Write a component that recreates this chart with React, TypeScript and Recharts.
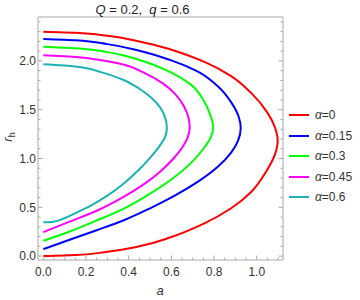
import { LineChart, Line, XAxis, YAxis, Legend } from "recharts";

const alphaNames = ["0", "0.15", "0.3", "0.45", "0.6"];
const colors = ["#ff0000", "#0000ff", "#00ff00", "#ff00ff", "#1bb3b3"];

// each curve runs from the lower branch (a=0), round the nose, back to a=0 on top;
// r_h grows along every curve, so a can be drawn as a smooth function of r_h
const alpha0 = [
  { a: 0, r: 0 }, { a: 0.15, r: 0.011 }, { a: 0.3, r: 0.045 }, { a: 0.45, r: 0.1 },
  { a: 0.6, r: 0.195 }, { a: 0.75, r: 0.33 }, { a: 0.88, r: 0.49 }, { a: 0.975, r: 0.66 },
  { a: 1.045, r: 0.87 }, { a: 1.085, r: 1.04 }, { a: 1.098, r: 1.18 }, { a: 1.085, r: 1.32 },
  { a: 1.05, r: 1.47 }, { a: 0.976, r: 1.667 }, { a: 0.88, r: 1.845 }, { a: 0.76, r: 1.985 },
  { a: 0.6, r: 2.115 }, { a: 0.45, r: 2.2 }, { a: 0.3, r: 2.257 }, { a: 0.15, r: 2.289 },
  { a: 0, r: 2.3 },
];

const alpha015 = [
  { a: 0, r: 0.072 }, { a: 0.12, r: 0.165 }, { a: 0.25, r: 0.265 }, { a: 0.38, r: 0.37 },
  { a: 0.5, r: 0.49 }, { a: 0.62, r: 0.625 }, { a: 0.73, r: 0.77 }, { a: 0.82, r: 0.92 },
  { a: 0.88, r: 1.06 }, { a: 0.912, r: 1.18 }, { a: 0.925, r: 1.31 }, { a: 0.915, r: 1.43 },
  { a: 0.882, r: 1.57 }, { a: 0.82, r: 1.735 }, { a: 0.72, r: 1.895 }, { a: 0.6, r: 2.005 },
  { a: 0.45, r: 2.105 }, { a: 0.3, r: 2.172 }, { a: 0.15, r: 2.212 }, { a: 0, r: 2.225 },
];

const alpha03 = [
  { a: 0, r: 0.157 }, { a: 0.12, r: 0.25 }, { a: 0.25, r: 0.365 }, { a: 0.38, r: 0.49 },
  { a: 0.5, r: 0.64 }, { a: 0.6, r: 0.785 }, { a: 0.69, r: 0.95 }, { a: 0.75, r: 1.1 },
  { a: 0.785, r: 1.22 }, { a: 0.796, r: 1.32 }, { a: 0.78, r: 1.46 }, { a: 0.75, r: 1.6 },
  { a: 0.69, r: 1.76 }, { a: 0.6, r: 1.88 }, { a: 0.45, r: 2.01 }, { a: 0.3, r: 2.09 },
  { a: 0.15, r: 2.13 }, { a: 0, r: 2.146 },
];

const alpha045 = [
  { a: 0, r: 0.246 }, { a: 0.12, r: 0.35 }, { a: 0.25, r: 0.465 }, { a: 0.37, r: 0.6 },
  { a: 0.47, r: 0.735 }, { a: 0.55, r: 0.87 }, { a: 0.61, r: 1.0 }, { a: 0.65, r: 1.11 },
  { a: 0.675, r: 1.21 }, { a: 0.686, r: 1.31 }, { a: 0.68, r: 1.42 }, { a: 0.66, r: 1.53 },
  { a: 0.62, r: 1.655 }, { a: 0.56, r: 1.77 }, { a: 0.48, r: 1.87 }, { a: 0.37, r: 1.965 },
  { a: 0.25, r: 2.015 }, { a: 0.12, r: 2.045 }, { a: 0, r: 2.057 },
];

const alpha06 = [
  { a: 0, r: 0.346 }, { a: 0.04, r: 0.349 }, { a: 0.09, r: 0.38 }, { a: 0.15, r: 0.44 },
  { a: 0.22, r: 0.515 }, { a: 0.3, r: 0.62 }, { a: 0.38, r: 0.75 }, { a: 0.45, r: 0.89 },
  { a: 0.505, r: 1.02 }, { a: 0.545, r: 1.13 }, { a: 0.57, r: 1.22 }, { a: 0.579, r: 1.31 },
  { a: 0.572, r: 1.41 }, { a: 0.55, r: 1.515 }, { a: 0.51, r: 1.615 }, { a: 0.45, r: 1.715 },
  { a: 0.37, r: 1.81 }, { a: 0.27, r: 1.885 }, { a: 0.15, r: 1.942 }, { a: 0, r: 1.965 },
];

const series = [alpha0, alpha015, alpha03, alpha045, alpha06];

const xTicks = [
  0, 0.05, 0.1, 0.15, 0.2, 0.25, 0.3, 0.35, 0.4, 0.45, 0.5, 0.55,
  0.6, 0.65, 0.7, 0.75, 0.8, 0.85, 0.9, 0.95, 1.0, 1.05, 1.1,
];
const yTicks = [
  0, 0.1, 0.2, 0.3, 0.4, 0.5, 0.6, 0.7, 0.8, 0.9, 1.0, 1.1, 1.2,
  1.3, 1.4, 1.5, 1.6, 1.7, 1.8, 1.9, 2.0, 2.1, 2.2, 2.3, 2.4,
];

const FRAME = "#a8a8a8";
const TEXT = "#333333";
const FONT = "'Liberation Sans', Arial, sans-serif";

const isMajor = (v: number, step: number) =>
  Math.abs(v / step - Math.round(v / step)) < 1e-6;

const BottomTick = ({ x, y, payload }: any) => {
  const major = isMajor(payload.value, 0.2);
  return (
    <g>
      <line x1={x} x2={x} y1={y} y2={y - (major ? 4.5 : 2.5)} stroke={FRAME} />
      {major && (
        <text x={x} y={y + 16} textAnchor="middle" fontSize={12} fill={TEXT} fontFamily={FONT}>
          {payload.value.toFixed(1)}
        </text>
      )}
    </g>
  );
};

const TopTick = ({ x, y, payload }: any) => {
  const major = isMajor(payload.value, 0.2);
  return <line x1={x} x2={x} y1={y} y2={y + (major ? 4.5 : 2.5)} stroke={FRAME} />;
};

const LeftTick = ({ x, y, payload }: any) => {
  const major = isMajor(payload.value, 0.5);
  return (
    <g>
      <line x1={x} x2={x + (major ? 4.5 : 2.5)} y1={y} y2={y} stroke={FRAME} />
      {major && (
        <text x={x - 2} y={y + 4.2} textAnchor="end" fontSize={12} fill={TEXT} fontFamily={FONT}>
          {payload.value.toFixed(1)}
        </text>
      )}
    </g>
  );
};

const RightTick = ({ x, y, payload }: any) => {
  const major = isMajor(payload.value, 0.5);
  return <line x1={x} x2={x - (major ? 4.5 : 2.5)} y1={y} y2={y} stroke={FRAME} />;
};

const TitleLabel = () => (
  <text x={142.5} y={14} textAnchor="middle" fontSize={13} fill="#222" fontFamily={FONT} style={{ whiteSpace: "pre" }}>
    <tspan fontStyle="italic">Q</tspan>
    <tspan>{" = 0.2,  "}</tspan>
    <tspan fontStyle="italic">q</tspan>
    <tspan>{" = 0.6"}</tspan>
  </text>
);

const XLabel = () => (
  <text x={160} y={295} textAnchor="middle" fontSize={13} fontStyle="italic" fill={TEXT} fontFamily={FONT}>
    a
  </text>
);

const YLabel = () => (
  <text x={12} y={137} transform="rotate(-90, 12, 137)" textAnchor="middle" fontSize={13} fill={TEXT} fontFamily={FONT}>
    <tspan fontStyle="italic">r</tspan>
    <tspan fontSize={9} dy={3}>h</tspan>
  </text>
);

const renderLegend = ({ payload }: any) => (
  <div style={{ fontFamily: FONT, fontSize: 12, color: TEXT }}>
    {(payload || []).map((entry: any) => (
      <div key={entry.value} style={{ display: "flex", alignItems: "center", height: 20.5 }}>
        <svg width={20} height={4}>
          <line x1={0} x2={20} y1={2} y2={2} stroke={entry.color} strokeWidth={2} />
        </svg>
        <span style={{ marginLeft: 6 }}>
          <i>α</i>={entry.value}
        </span>
      </div>
    ))}
  </div>
);

export default function App() {
  return (
    <div style={{ position: "absolute", left: 0, top: 0, width: 360, height: 300, background: "#fff" }}>
      <LineChart width={360} height={300} margin={{ top: 0, right: 0, bottom: 0, left: 0 }}>
        <XAxis
          xAxisId="b"
          dataKey="a"
          type="number"
          domain={[-0.025, 1.123]}
          allowDataOverflow
          ticks={xTicks}
          interval={0}
          height={40}
          tickSize={0}
          tickMargin={0}
          tickLine={false}
          axisLine={{ stroke: FRAME }}
          tick={BottomTick}
          label={XLabel}
        />
        <XAxis
          xAxisId="t"
          orientation="top"
          type="number"
          domain={[-0.025, 1.123]}
          allowDataOverflow
          ticks={xTicks}
          interval={0}
          height={17}
          tickSize={0}
          tickMargin={0}
          tickLine={false}
          axisLine={{ stroke: FRAME }}
          tick={TopTick}
          label={TitleLabel}
        />
        <YAxis
          yAxisId="l"
          type="number"
          domain={[-0.04, 2.45]}
          allowDataOverflow
          ticks={yTicks}
          interval={0}
          width={38}
          tickSize={0}
          tickMargin={0}
          tickLine={false}
          axisLine={{ stroke: FRAME }}
          tick={LeftTick}
          label={YLabel}
        />
        <YAxis
          yAxisId="r"
          orientation="right"
          type="number"
          domain={[-0.04, 2.45]}
          allowDataOverflow
          ticks={yTicks}
          interval={0}
          width={77}
          tickSize={0}
          tickMargin={0}
          tickLine={false}
          axisLine={{ stroke: FRAME }}
          tick={RightTick}
        />
        <Legend
          layout="vertical"
          align="center"
          verticalAlign="middle"
          content={renderLegend}
          wrapperStyle={{ position: "absolute", left: 289, top: 105, width: "auto", height: "auto" }}
        />
        {series.map((data, i) => (
          <Line
            key={alphaNames[i]}
            name={alphaNames[i]}
            data={data}
            dataKey="r"
            xAxisId="b"
            yAxisId="l"
            type="monotoneY"
            stroke={colors[i]}
            strokeWidth={2}
            dot={false}
            activeDot={false}
            isAnimationActive={false}
          />
        ))}
      </LineChart>
    </div>
  );
}
